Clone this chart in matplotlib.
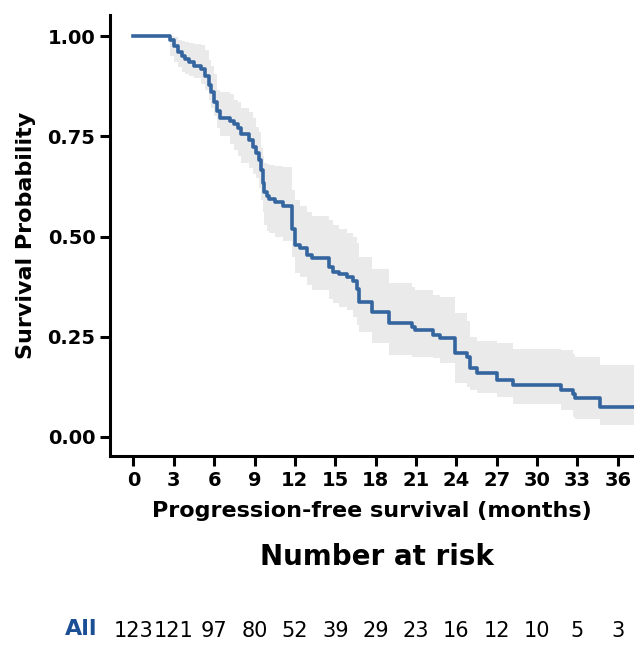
from matplotlib import pyplot as plt
from matplotlib import transforms

## Data
times = [0, 2.7, 3.0, 3.3, 3.6, 3.8, 4.1, 4.5, 5.0, 5.3,
         5.6, 5.8, 6.0, 6.2, 6.4, 7.2, 7.5, 7.8, 8.0, 8.6,
         8.9, 9.1, 9.3, 9.5, 9.6, 9.7, 9.9, 10.1, 10.5, 11.1,
         11.8, 12.0, 12.4, 12.9, 13.3, 14.5, 14.8, 15.3, 15.9, 16.3,
         16.6, 16.8, 17.7, 19.0, 20.7, 20.9, 22.3, 22.8, 23.9, 24.8,
         25.0, 25.5, 27.0, 28.2, 31.8, 32.7, 32.8, 34.7, 37.5]
surv = [1.0, 0.992, 0.976, 0.96, 0.951, 0.943, 0.935, 0.927, 0.919, 0.902,
        0.878, 0.862, 0.837, 0.813, 0.797, 0.789, 0.780, 0.772, 0.757, 0.74,
        0.724, 0.708, 0.691, 0.667, 0.634, 0.61, 0.602, 0.594, 0.585, 0.577,
        0.52, 0.48, 0.471, 0.455, 0.447, 0.425, 0.412, 0.406, 0.398, 0.39,
        0.37, 0.337, 0.312, 0.283, 0.274, 0.266, 0.254, 0.246, 0.208, 0.2,
        0.171, 0.158, 0.142, 0.13, 0.116, 0.106, 0.096, 0.075, 0.075]
ci_upper = [1.0, 1.0, 0.998, 0.99, 0.988, 0.986, 0.984, 0.982, 0.978, 0.965,
            0.94, 0.925, 0.905, 0.866, 0.862, 0.855, 0.842, 0.835, 0.82, 0.81,
            0.795, 0.774, 0.76, 0.72, 0.70, 0.683, 0.68, 0.678, 0.676, 0.674,
            0.616, 0.59, 0.575, 0.56, 0.55, 0.541, 0.53, 0.52, 0.508, 0.5,
            0.483, 0.45, 0.42, 0.383, 0.375, 0.366, 0.355, 0.35, 0.308, 0.29,
            0.25, 0.24, 0.233, 0.22, 0.216, 0.206, 0.20, 0.18, 0.175]
ci_lower = [1.0, 0.95, 0.935, 0.924, 0.912, 0.905, 0.90, 0.895, 0.88, 0.866,
            0.84, 0.82, 0.80, 0.77, 0.75, 0.73, 0.716, 0.70, 0.683, 0.67,
            0.655, 0.645, 0.62, 0.59, 0.56, 0.53, 0.515, 0.508, 0.50, 0.49,
            0.45, 0.41, 0.40, 0.38, 0.366, 0.345, 0.333, 0.325, 0.316, 0.30,
            0.28, 0.262, 0.233, 0.204, 0.20, 0.198, 0.196, 0.185, 0.133, 0.125,
            0.117, 0.11, 0.1, 0.083, 0.067, 0.05, 0.045, 0.029, 0.029]

risk_times = [0, 3, 6, 9, 12, 15, 18, 21, 24, 27, 30, 33, 36]
at_risk = [123, 121, 97, 80, 52, 39, 29, 23, 16, 12, 10, 5, 3]
group = "All"

## Set up plot ------------------------------------------------------------
line_color = "#35659f"
label_color = "#1b4f95"
fsize = 14

fig = plt.figure(figsize=(6.34, 6.64), dpi=100)
ax = fig.add_axes([0.1735, 0.3133, 0.8265, 0.664])

ax.fill_between(times, ci_lower, ci_upper, step="post", color="#eaeaea", lw=0)
ax.step(times, surv, where="post", color=line_color, linewidth=2.6)

ax.set_xlim(-1.74, 37.2)
ax.set_ylim(-0.048, 1.053)
ax.set_xticks(risk_times)
ax.set_yticks([0, 0.25, 0.5, 0.75, 1.0])
ax.set_yticklabels(["0.00", "0.25", "0.50", "0.75", "1.00"])

for s in ["top", "right"]:
    ax.spines[s].set_visible(False)
for s in ["left", "bottom"]:
    ax.spines[s].set_linewidth(2.2)
ax.tick_params(width=2.2, length=7, labelsize=fsize)
for lab in ax.get_xticklabels() + ax.get_yticklabels():
    lab.set_fontweight("bold")

ax.set_xlabel("Progression-free survival (months)", fontsize=16, fontweight="bold", labelpad=8)
ax.set_ylabel("Survival Probability", fontsize=16, fontweight="bold", labelpad=8)

# number at risk table
fig.text(377 / 634, 1 - 557 / 664, "Number at risk", ha="center", va="center",
         fontsize=20, fontweight="bold")
tr = transforms.blended_transform_factory(ax.transData, fig.transFigure)
for t, n in zip(risk_times, at_risk):
    ax.text(t, 1 - 631 / 664, str(n), transform=tr, ha="center", va="center",
            fontsize=15)
fig.text(81 / 634, 1 - 629 / 664, group, ha="center", va="center", fontsize=16,
         fontweight="bold", color=label_color)

fig.savefig("out.png", dpi=100)
